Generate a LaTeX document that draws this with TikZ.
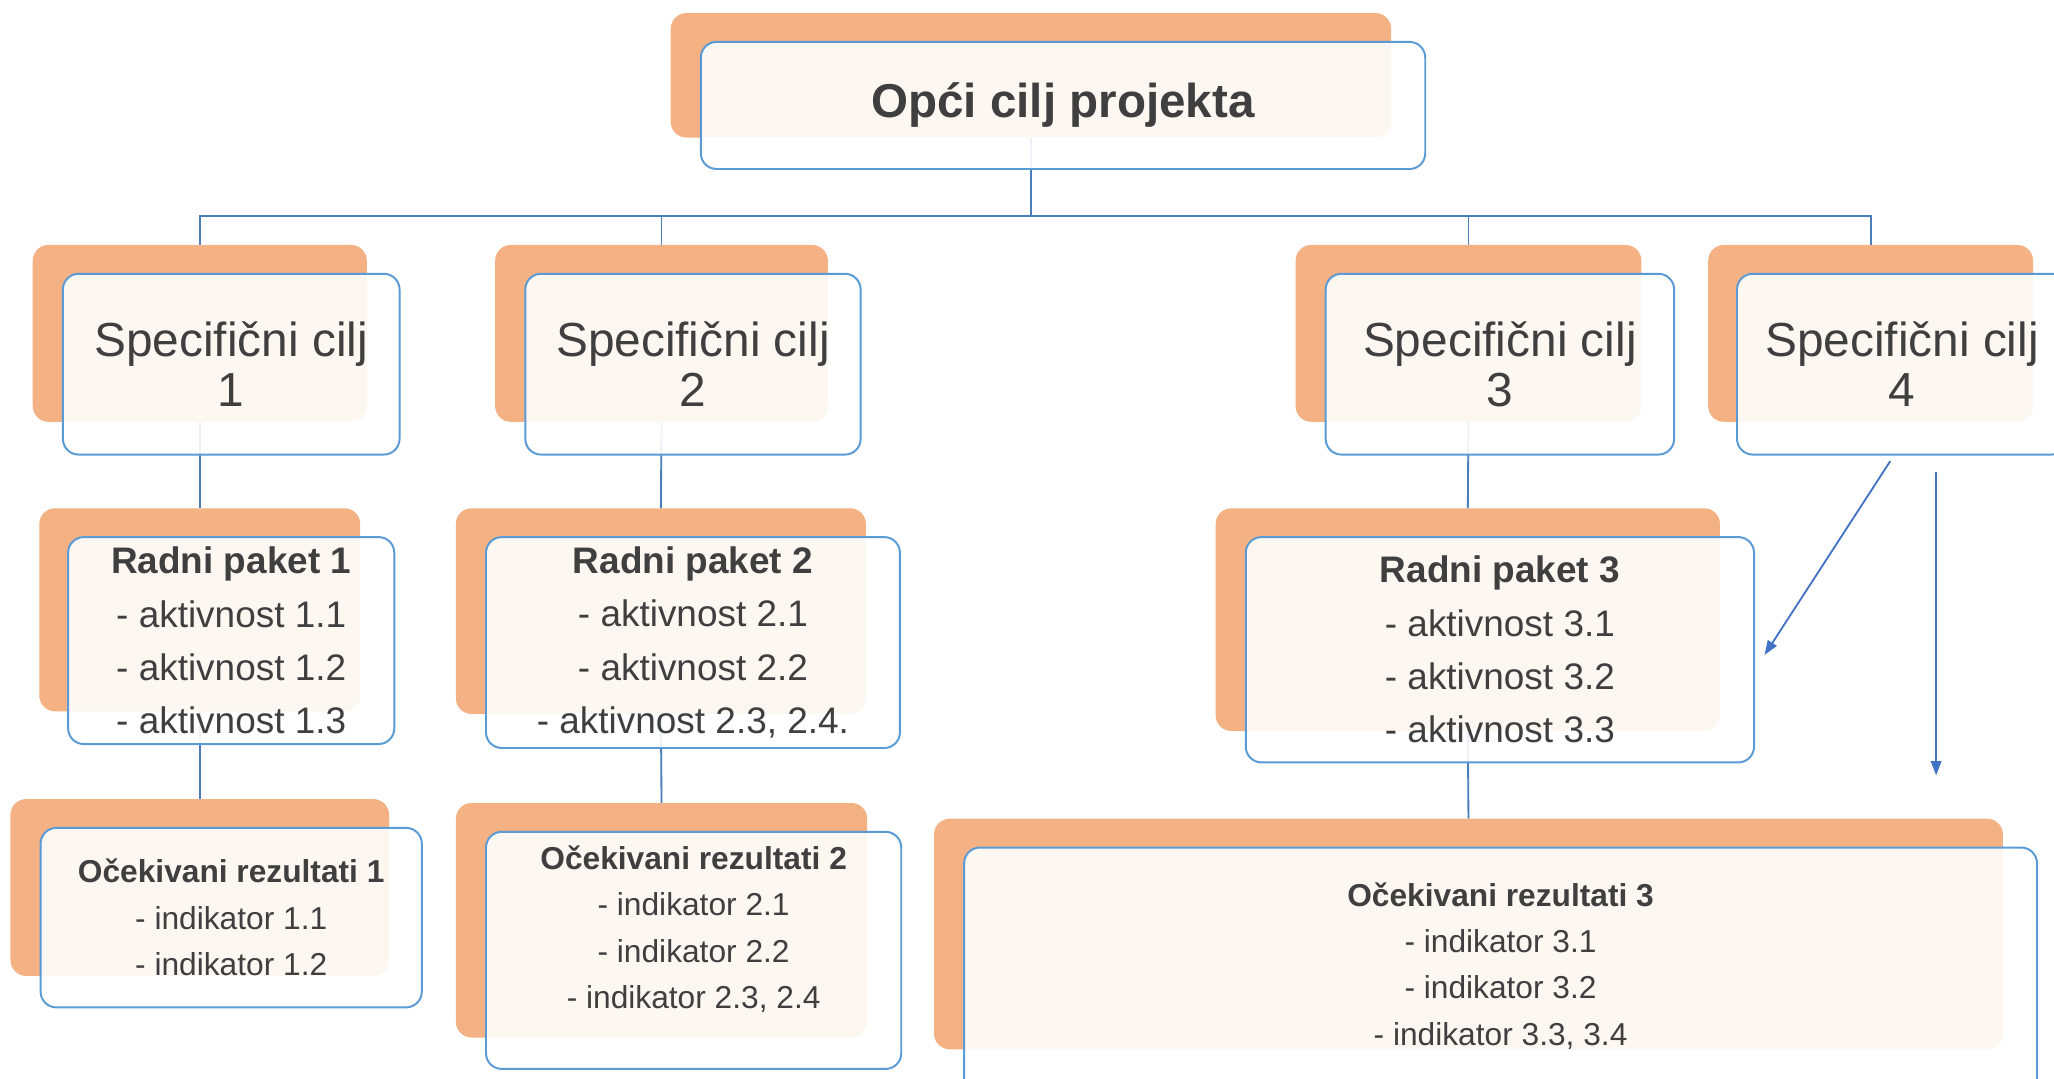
\documentclass[tikz,border=0pt]{standalone}
\usepackage{fontspec}
\setmainfont{Liberation Sans}
\usetikzlibrary{arrows.meta,backgrounds}
\definecolor{orng}{HTML}{F4B183}
\definecolor{bord}{HTML}{5B9BD5}
\definecolor{connc}{HTML}{4A7EBB}
\definecolor{arrc}{HTML}{4472C4}
\definecolor{txt}{HTML}{3F3F3F}
\begin{document}
\begin{tikzpicture}[x=1pt,y=-1pt,
  pos/.style n args={4}{at={(#1,#2)}, minimum width=#3-#1, minimum height=#4-#2},
  back/.style={fill=orng, rounded corners=12pt, inner sep=0pt, outer sep=0pt, anchor=north west},
  front/.style={draw=bord, line width=1.5pt, fill=white, fill opacity=0.9, text opacity=1,
    rounded corners=12pt, inner sep=0pt, outer sep=0pt, anchor=north west, align=center, text=txt},
  topf/.style={font=\bfseries\fontsize{36.3}{40}\selectfont},
  scf/.style={font=\fontsize{36.5}{37.8}\selectfont},
  rpf/.style={font=\fontsize{28.2}{40.7}\selectfont},
  orf/.style={font=\fontsize{24.2}{35.4}\selectfont},
  cn/.style={draw=connc, line width=1.4pt},
  arr/.style={draw=arrc, line width=1.4pt, -{Triangle[length=11pt,width=8pt]}}]
\useasboundingbox (0,0) rectangle (1568,823);
\clip (0,0) rectangle (1568,823);

% top
\node[back, pos={512}{10}{1062}{105}] (top-o) {};
\node[front, topf, pos={535}{32}{1088}{129}] (top) {Opći cilj projekta};

% specific goals
\node[back, pos={25}{187}{280}{322}] (sc1-o) {};
\node[front, scf, pos={48}{209}{305}{347}] (sc1) {Specifični cilj\\1};
\node[back, pos={378}{187}{632}{322}] (sc2-o) {};
\node[front, scf, pos={401}{209}{657}{347}] (sc2) {Specifični cilj\\2};
\node[back, pos={989}{187}{1253}{322}] (sc3-o) {};
\node[front, scf, pos={1012}{209}{1278}{347}] (sc3) {Specifični cilj\\3};
\node[back, pos={1304}{187}{1552}{322}] (sc4-o) {};
\node[front, scf, pos={1326}{209}{1578}{347}] (sc4) {Specifični cilj\\4};

% work packages
\node[back, pos={30}{388}{275}{543}] (rp1-o) {};
\node[front, rpf, pos={52}{410}{301}{568}] (rp1) {\textbf{Radni paket 1}\\- aktivnost 1.1\\- aktivnost 1.2\\- aktivnost 1.3};
\node[back, pos={348}{388}{661}{545}] (rp2-o) {};
\node[front, rpf, pos={371}{410}{687}{571}] (rp2) {\textbf{Radni paket 2}\\- aktivnost 2.1\\- aktivnost 2.2\\- aktivnost 2.3, 2.4.};
\node[back, pos={928}{388}{1313}{558}] (rp3-o) {};
\node[front, rpf, pos={951}{410}{1339}{582}] (rp3) {\textbf{Radni paket 3}\\- aktivnost 3.1\\- aktivnost 3.2\\- aktivnost 3.3};

% expected results
\node[back, pos={8}{610}{297}{745}] (or1-o) {};
\node[front, orf, pos={31}{632}{322}{769}] (or1) {\textbf{Očekivani rezultati 1}\\- indikator 1.1\\- indikator 1.2};
\node[back, pos={348}{613}{662}{792}] (or2-o) {};
\node[front, orf, pos={371}{635}{688}{816}] (or2) {\textbf{Očekivani rezultati 2}\\- indikator 2.1\\- indikator 2.2\\- indikator 2.3, 2.4\\\mbox{}};
\node[back, pos={713}{625}{1529}{801}] (or3-o) {};
\node[front, orf, pos={736}{647}{1555}{860}] (or3) {\textbf{Očekivani rezultati 3}\\- indikator 3.1\\- indikator 3.2\\- indikator 3.3, 3.4\\\mbox{}};

% white page and connectors behind the boxes
\begin{scope}[on background layer]
\fill[white] (0,0) rectangle (1568,823);
\draw[cn] (top-o.south) -- ++(0,60) -| (sc1-o.north);
\draw[cn] (top-o.south) -- ++(0,60) -| (sc2-o.north);
\draw[cn] (top-o.south) -- ++(0,60) -| (sc3-o.north);
\draw[cn] (top-o.south) -- ++(0,60) -| (sc4-o.north);
\draw[cn] (sc1-o.south) -- (rp1-o.north);
\draw[cn] (sc2-o.south) -- (rp2-o.north);
\draw[cn] (sc3-o.south) -- (rp3-o.north);
\draw[cn] (rp1-o.south) -- (or1-o.north);
\draw[cn] (rp2-o.south) -- (or2-o.north);
\draw[cn] (rp3-o.south) -- (or3-o.north);
\end{scope}

% free arrows
\coordinate (a1s) at (1443,352);
\coordinate (a1e) at (1347,500);
\coordinate (a2s) at (1478,360);
\coordinate (a2e) at (1478,592);
\draw[arr] (a1s) -- (a1e);
\draw[arr] (a2s) -- (a2e);
\end{tikzpicture}
\end{document}
